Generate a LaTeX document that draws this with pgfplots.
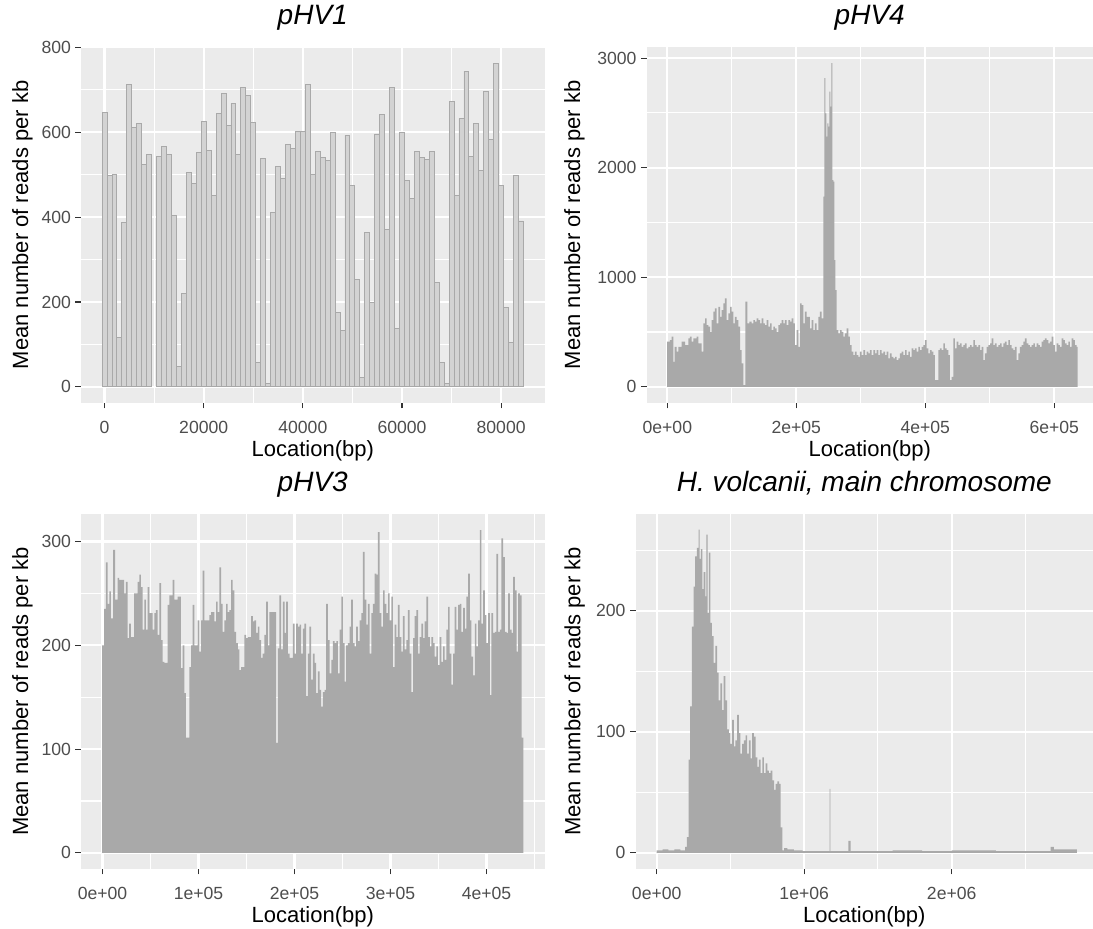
\documentclass[border=0pt]{standalone}
\usepackage{fontspec}
\setmainfont{Liberation Sans}
\usepackage{pgfplots}
\pgfplotsset{compat=1.18}

\definecolor{panelbg}{HTML}{EBEBEB}
\definecolor{ticktext}{HTML}{4D4D4D}
\definecolor{tickgray}{HTML}{333333}
\definecolor{barfill}{HTML}{D3D3D3}
\definecolor{barline}{HTML}{A9A9A9}
\definecolor{histfill}{HTML}{A9A9A9}

\pgfplotsset{
  ggpanel/.style={
    scale only axis,
    scaled ticks=false,
    axis background/.style={fill=panelbg},
    axis line style={draw=none},
    grid=both,
    major grid style={draw=white, line width=2.1pt},
    minor grid style={draw=white, line width=1.05pt},
    tick align=outside,
    tick pos=left,
    major tick length=5.5pt,
    minor tick length=0pt,
    every tick/.style={draw=tickgray, line width=1.1pt},
    ticklabel style={font=\fontsize{17.6}{20}\selectfont, text=ticktext, inner sep=0pt},
    xticklabel style={anchor=north},
    yticklabel style={anchor=east},
    xticklabel shift=12.2pt,
    yticklabel shift=4.4pt,
    title style={font=\fontsize{28}{32}\selectfont\itshape, at={(rel axis cs:0.5,1)}, anchor=base, yshift=16pt},
    every axis x label/.style={at={(rel axis cs:0.5,0)}, anchor=base, yshift=-54pt, font=\fontsize{22}{26}\selectfont},
    xlabel={Location(bp)},
    ylabel={Mean number of reads per kb},
  },
  ylab/.style={every axis y label/.style={at={(rel axis cs:0,0.5)}, xshift=#1, rotate=90, anchor=center, font=\fontsize{22}{26}\selectfont}},
}

\begin{document}
\begin{tikzpicture}
\useasboundingbox (0,0) rectangle (1093pt,929pt);

% pHV1, 1 kb bins
\begin{axis}[ggpanel, ylab=-58.5pt,
  at={(81pt,526pt)}, anchor=south west, width=463.5pt, height=356pt,
  title={pHV1},
  xmin=-4750, xmax=88750, ymin=-38, ymax=801,
  xtick={0,20000,40000,60000,80000}, xticklabels={0,20000,40000,60000,80000},
  minor xtick={10000,30000,50000,70000},
  ytick={0,200,400,600,800}, yticklabels={0,200,400,600,800},
  minor ytick={100,300,500,700},
]
\addplot[ybar, bar width=1000, fill=barfill, draw=barline, line width=0.9pt] coordinates {
(0,647) (1000,498) (2000,500) (3000,116) (4000,387) (5000,713) (6000,611) (7000,621) (8000,523) (9000,548)
(11000,542) (12000,567) (13000,548) (14000,403) (15000,47) (16000,220) (17000,505) (18000,479) (19000,552)
(20000,625) (21000,558) (22000,452) (23000,644) (24000,692) (25000,615) (26000,668) (27000,548) (28000,706) (29000,687)
(30000,624) (31000,57) (32000,539) (33000,9) (34000,410) (35000,520) (36000,492) (37000,571) (38000,562) (39000,603)
(40000,603) (41000,713) (42000,500) (43000,554) (44000,540) (45000,533) (46000,599) (47000,176) (48000,133) (49000,593)
(50000,474) (51000,253) (52000,22) (53000,363) (54000,199) (55000,596) (56000,643) (57000,372) (58000,706) (59000,138)
(60000,599) (61000,486) (62000,444) (63000,554) (64000,540) (65000,537) (66000,554) (67000,245) (68000,57) (69000,9)
(70000,672) (71000,451) (72000,633) (73000,744) (74000,542) (75000,621) (76000,511) (77000,696) (78000,583) (79000,763)
(80000,474) (81000,186) (82000,104) (83000,498) (84000,391)
};
\end{axis}

% pHV4, positions in kb
\begin{axis}[ggpanel, ylab=-72pt,
  at={(646.5pt,526pt)}, anchor=south west, width=446.5pt, height=356pt,
  title={pHV4},
  xmin=-32.3, xmax=660, ymin=-148, ymax=3101,
  xtick={0,200,400,600}, xticklabels={0e+00,2e+05,4e+05,6e+05},
  minor xtick={100,300,500},
  ytick={0,1000,2000,3000}, yticklabels={0,1000,2000,3000},
  minor ytick={500,1500,2500},
]
\addplot[const plot, fill=histfill, draw=none] table {
kb v
-0.5 411
4.1 426
6.7 457
9.3 228
11.4 365
14.5 320
17.1 365
22.2 411
27.4 380
32.6 441
35.1 457
37.7 411
40.3 441
45.5 457
48.1 396
53.2 320
55.8 578
58.4 624
61.0 563
63.6 548
66.2 502
68.7 609
71.3 685
73.9 715
76.5 578
79.1 730
81.7 639
84.2 700
86.8 761
89.4 807
92.0 609
94.6 670
97.2 730
99.7 685
102.3 578
104.9 639
107.5 609
110.1 548
112.7 335
115.2 213
117.8 15
120.9 776
124.0 578
127.1 594
130.8 578
133.3 609
135.9 594
138.5 624
141.1 609
143.7 578
146.3 624
148.8 578
151.4 563
154.0 609
156.6 548
159.2 578
161.8 517
164.3 548
166.9 533
169.5 502
172.1 563
174.7 578
177.3 609
179.8 578
182.4 609
185.0 563
187.6 609
190.2 594
192.8 624
195.3 578
197.9 380
200.5 517
203.1 365
205.7 761
208.3 746
210.9 578
213.4 685
216.0 639
218.6 639
221.2 533
223.8 609
226.4 517
228.9 578
231.5 517
234.1 639
236.7 685
239.3 624
241.9 1735
243.4 2816
245.0 2496
246.5 2283
248.1 2405
249.6 2374
251.2 2694
252.7 2557
254.3 2953
255.8 1887
257.4 1872
258.9 1157
260.5 883
262.5 517
265.1 487
267.7 517
270.3 502
272.9 457
275.4 487
278.0 533
280.6 457
283.2 380
285.8 320
288.4 289
290.9 320
293.5 289
296.1 274
298.7 320
301.3 289
303.9 335
306.5 289
309.0 320
311.6 304
314.2 335
316.8 289
319.4 335
322.0 304
324.5 335
327.1 289
329.7 335
332.3 304
334.9 320
337.5 289
340.0 320
342.6 259
345.2 304
347.8 274
350.4 259
353.0 274
355.6 243
358.1 259
360.7 304
363.3 320
365.9 289
368.5 335
371.1 289
373.6 320
376.2 274
378.8 350
381.4 335
384.0 350
386.6 320
389.1 365
391.7 335
394.3 365
396.9 380
399.5 426
402.1 350
404.7 304
407.2 335
409.8 320
412.4 289
415.0 61
417.6 61
420.2 335
422.7 350
425.3 335
427.9 396
430.5 350
433.1 335
435.7 289
438.2 61
440.8 91
443.4 441
446.0 350
448.6 411
451.2 380
453.7 396
456.3 365
458.9 380
461.5 396
464.1 350
466.7 365
469.3 380
471.8 365
474.4 426
477.0 380
479.6 365
482.2 380
484.8 335
487.3 365
489.9 243
492.5 304
495.1 365
497.7 380
500.3 396
502.8 441
505.4 380
508.0 396
510.6 365
513.2 380
515.8 396
518.4 365
520.9 396
523.5 411
526.1 380
528.7 426
531.3 380
533.9 350
536.4 335
539.0 365
541.6 243
544.2 304
546.8 365
549.4 380
551.9 411
554.5 441
557.1 396
559.7 380
562.3 365
564.9 380
567.4 396
570.0 365
572.6 396
575.2 380
577.8 365
580.4 411
582.9 426
585.5 441
588.1 426
590.7 396
593.3 411
595.9 457
598.4 380
601.0 320
603.6 396
606.2 380
608.8 365
611.4 441
614.0 426
616.5 396
619.1 380
621.7 411
624.3 365
626.9 441
629.5 426
632.0 380
634.6 365
636.3 0
} \closedcycle;
\end{axis}

% pHV3, positions in kb
\begin{axis}[ggpanel, ylab=-58.5pt,
  at={(81pt,60pt)}, anchor=south west, width=463.5pt, height=355pt,
  title={pHV3},
  xmin=-22.45, xmax=460.45, ymin=-15.5, ymax=326.5,
  xtick={0,100,200,300,400}, xticklabels={0e+00,1e+05,2e+05,3e+05,4e+05},
  minor xtick={50,150,250,350,450},
  ytick={0,100,200,300}, yticklabels={0,100,200,300},
  minor ytick={50,150,250},
]
\addplot[const plot, fill=histfill, draw=none] table {
kb v
-0.5 200
1.7 235
3.5 280
5.2 240
7.0 252
8.7 226
11.1 292
13.2 244
15.7 265
17.4 263
22.6 250
24.3 261
26.1 207
27.8 221
29.6 208
33.0 250
36.5 261
38.3 268
40.0 256
41.7 215
43.5 244
45.2 215
47.0 256
48.7 231
52.2 215
53.9 231
55.6 234
57.4 210
59.1 260
60.9 205
62.6 184
64.3 183
67.8 239
69.6 248
73.0 263
74.8 244
78.3 247
81.7 178
83.5 200
85.2 154
86.9 111
90.4 179
92.2 200
93.9 239
95.6 200
99.1 224
100.9 194
102.6 224
104.3 272
106.1 224
111.3 229
113.0 232
116.5 223
118.3 242
120.0 232
121.7 275
123.5 240
125.2 213
126.9 224
128.7 240
130.4 232
132.2 234
133.9 263
135.6 253
137.4 213
139.1 202
140.9 196
142.6 176
144.3 179
147.8 210
149.6 207
151.3 208
154.8 228
156.5 223
158.2 224
160.0 212
161.7 218
163.5 205
165.2 188
166.9 192
168.7 210
170.4 242
172.2 200
173.9 232
180.9 106
182.6 197
184.3 248
186.1 196
187.8 242
189.6 212
191.3 242
193.0 192
194.8 188
198.3 221
200.0 192
201.7 221
203.5 218
205.2 220
206.9 192
208.7 216
210.4 221
212.2 151
213.9 192
215.6 218
217.4 167
219.1 192
220.9 183
222.6 154
224.3 175
226.1 157
227.8 141
229.6 155
231.3 157
233.0 240
234.8 205
236.5 173
238.3 186
240.0 204
241.7 202
243.5 204
245.2 173
246.9 215
248.7 247
250.4 202
252.2 165
253.9 200
255.6 202
257.4 218
259.1 244
260.9 202
262.6 199
264.3 218
266.1 204
267.8 224
269.6 231
271.3 290
273.0 244
274.8 220
276.5 240
278.2 192
280.0 231
281.7 240
283.5 269
285.2 268
286.9 309
288.7 231
290.4 218
292.2 253
293.9 240
295.6 231
297.4 250
299.1 224
300.9 247
302.6 179
304.3 220
306.1 208
307.8 239
309.6 208
311.3 194
313.0 228
314.8 196
316.5 205
318.2 234
320.0 192
321.7 155
323.5 207
325.2 228
326.9 234
328.7 192
330.4 208
332.2 221
333.9 207
335.6 223
337.4 247
339.1 208
340.9 199
342.6 208
344.3 202
346.1 189
347.8 199
349.5 181
351.3 208
353.0 184
354.8 199
356.5 186
358.2 215
360.0 237
361.7 192
363.5 162
365.2 192
366.9 237
368.7 215
370.4 239
372.2 240
373.9 213
375.6 236
377.4 216
379.1 247
380.9 269
382.6 224
384.3 189
386.1 171
387.8 221
389.5 199
391.3 224
393.0 311
394.8 221
396.5 253
398.2 229
400.0 202
401.7 231
403.5 152
405.2 231
406.9 212
408.7 213
410.4 288
412.2 213
413.9 215
415.6 303
417.4 285
419.1 213
420.9 212
422.6 250
424.3 215
426.1 212
427.8 266
429.6 253
431.3 194
433.0 250
434.8 248
436.5 111
438.5 0
} \closedcycle;
\end{axis}

% main chromosome, positions in kb
\begin{axis}[ggpanel, ylab=-61pt,
  at={(635.6pt,60pt)}, anchor=south west, width=457.4pt, height=355pt,
  title={H. volcanii, main chromosome},
  xmin=-142.9, xmax=2958, ymin=-13.3, ymax=280,
  xtick={0,1000,2000}, xticklabels={0e+00,1e+06,2e+06},
  minor xtick={500,1500,2500},
  ytick={0,100,200}, yticklabels={0,100,200},
  minor ytick={50,150,250},
]
\addplot[const plot, fill=histfill, draw=none] table {
kb v
-0.5 2
40 3
80 2
120 3
160 2
193.2 5
204.5 13
215.9 77
227.3 121
238.6 187
250.0 220
261.4 245
272.7 252
284.1 267
290.9 243
300.0 251
309.1 218
318.2 232
329.5 212
336.4 263
345.5 198
354.5 248
363.6 190
375.0 179
386.4 157
397.7 171
409.1 149
420.5 126
431.8 140
443.2 118
454.5 146
465.9 126
477.3 102
488.6 99
500.0 90
511.4 110
522.7 88
534.1 93
545.5 114
556.8 99
568.2 82
579.5 90
590.9 93
602.3 97
613.6 82
625.0 93
636.4 78
647.7 99
659.1 96
670.5 79
681.8 71
693.2 77
704.5 66
715.9 79
727.3 66
738.6 74
750.0 68
761.4 66
772.7 68
784.1 60
795.5 52
806.8 57
818.2 59
829.5 57
840.9 21
852.3 2
863.6 4
886.4 3
930 2
988.6 1.5
1170.5 1.5
1172 53
1178 1.5
1296 1.5
1300 10
1314 1.5
1600 2
1800 1.5
2000 2
2300 1.5
2670.5 5
2693.2 3
2848 0
} \closedcycle;
\end{axis}
\end{tikzpicture}
\end{document}
